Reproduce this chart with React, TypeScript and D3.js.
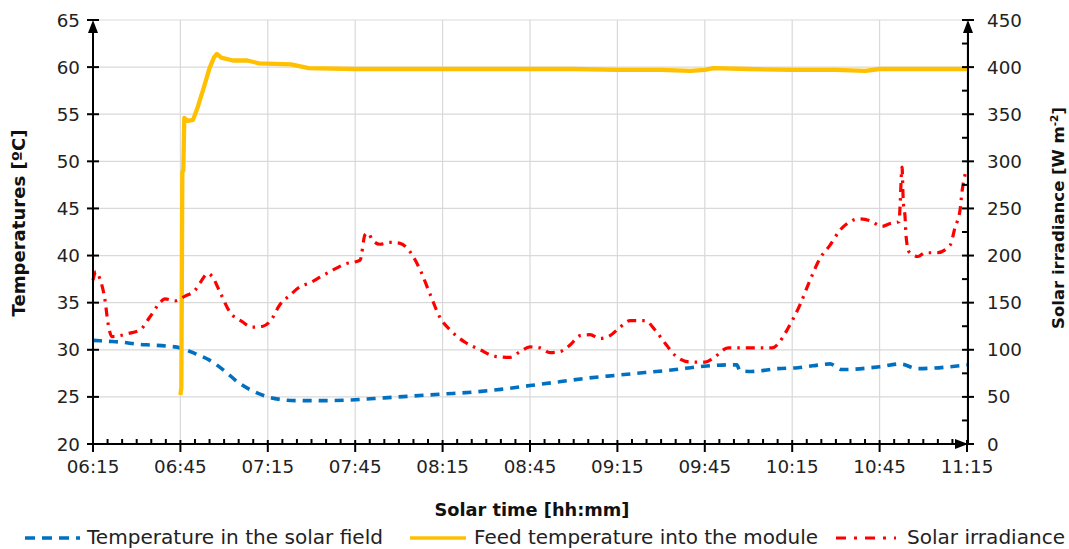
import React from "react";
import * as d3 from "d3";

const W = 1069;
const H = 549;

const xTickLabels = ["06:15", "06:45", "07:15", "07:45", "08:15", "08:45", "09:15", "09:45", "10:15", "10:45", "11:15"];
const leftTicks = [20, 25, 30, 35, 40, 45, 50, 55, 60, 65];
const rightTicks = [0, 50, 100, 150, 200, 250, 300, 350, 400, 450];

const fieldTimes = ["06:15:00", "06:20:00", "06:25:00", "06:30:00", "06:35:00", "06:40:00", "06:45:00", "06:50:00", "06:55:00", "07:00:00", "07:05:00", "07:10:00", "07:15:00", "07:20:00", "07:25:00", "07:35:00", "07:45:00", "07:55:00", "08:05:00", "08:15:00", "08:25:00", "08:35:00", "08:45:00", "08:55:00", "09:05:00", "09:15:00", "09:25:00", "09:35:00", "09:43:00", "09:54:00", "09:56:00", "09:57:00", "10:01:00", "10:10:00", "10:17:00", "10:22:00", "10:28:00", "10:32:00", "10:45:00", "10:52:00", "10:58:00", "11:15:00"];
const fieldTemp = [31.0, 30.9, 30.8, 30.6, 30.5, 30.4, 30.2, 29.6, 28.9, 27.8, 26.5, 25.6, 25.0, 24.7, 24.6, 24.6, 24.7, 24.9, 25.1, 25.3, 25.5, 25.8, 26.2, 26.6, 27.0, 27.3, 27.6, 27.9, 28.2, 28.4, 28.4, 27.8, 27.7, 28.0, 28.1, 28.3, 28.5, 27.9, 28.2, 28.5, 28.0, 28.4];

const feedTimes = ["06:45:00", "06:45:20", "06:45:40", "06:46:00", "06:46:20", "06:47:30", "06:49:20", "06:51:00", "06:53:00", "06:55:00", "06:56:30", "06:57:30", "06:59:00", "07:03:00", "07:08:00", "07:12:00", "07:23:00", "07:29:00", "07:45:00", "08:00:00", "08:15:00", "08:30:00", "08:45:00", "09:00:00", "09:15:00", "09:30:00", "09:40:00", "09:45:00", "09:48:00", "10:00:00", "10:15:00", "10:30:00", "10:40:00", "10:45:00", "11:00:00", "11:15:00"];
const feedTemp = [25.2, 26.0, 48.9, 49.0, 54.6, 54.3, 54.4, 55.8, 57.8, 59.9, 61.0, 61.4, 61.0, 60.7, 60.7, 60.4, 60.3, 59.9, 59.8, 59.8, 59.8, 59.8, 59.8, 59.8, 59.7, 59.7, 59.6, 59.7, 59.9, 59.8, 59.7, 59.7, 59.6, 59.8, 59.8, 59.8];

const irrTimes = ["06:15:00", "06:16:00", "06:17:24", "06:19:06", "06:20:10", "06:21:30", "06:24:18", "06:26:40", "06:31:08", "06:34:34", "06:38:00", "06:39:43", "06:43:09", "06:46:35", "06:50:00", "06:51:44", "06:54:29", "06:55:51", "06:58:36", "07:02:00", "07:06:09", "07:09:35", "07:13:21", "07:15:46", "07:19:12", "07:22:38", "07:26:04", "07:29:30", "07:32:56", "07:36:22", "07:41:30", "07:46:40", "07:48:22", "07:49:24", "07:50:48", "07:53:30", "07:57:00", "08:00:24", "08:03:50", "08:07:16", "08:10:42", "08:14:08", "08:17:34", "08:22:42", "08:27:52", "08:33:00", "08:38:10", "08:41:36", "08:45:00", "08:48:28", "08:51:52", "08:55:18", "08:58:44", "09:02:10", "09:05:36", "09:09:00", "09:12:28", "09:15:54", "09:19:20", "09:24:28", "09:27:56", "09:31:22", "09:34:48", "09:40:00", "09:45:06", "09:47:50", "09:53:00", "09:59:30", "10:08:06", "10:11:30", "10:13:14", "10:17:42", "10:21:08", "10:24:32", "10:28:00", "10:31:26", "10:34:52", "10:37:36", "10:41:44", "10:45:52", "10:48:38", "10:51:42", "10:52:00", "10:52:42", "10:53:06", "10:53:44", "10:54:06", "10:55:06", "10:58:12", "11:00:36", "11:04:42", "11:09:12", "11:10:54", "11:12:36", "11:13:18", "11:14:42"];
const irrValues = [174, 183, 175, 153, 128, 114, 115, 117, 121, 135, 150, 154, 152, 157, 163, 171, 181, 178, 161, 140, 130, 124, 125, 130, 148, 158, 167, 171, 177, 183, 191, 195, 222, 224, 217, 212, 214, 213, 204, 185, 159, 134, 121, 108, 100, 93, 92, 98, 103, 102, 97, 98, 105, 115, 116, 112, 115, 124, 131, 131, 121, 107, 94, 87, 87, 91, 102, 102, 102, 112, 121, 148, 174, 197, 211, 227, 236, 239, 237, 231, 234, 236, 251, 294, 259, 241, 220, 204, 199, 203, 203, 211, 230, 248, 268, 290];

const parse = d3.timeParse("%H:%M:%S");
const parseHM = d3.timeParse("%H:%M");

const X0 = 93, X1 = 967, Y0 = 444, Y1 = 20;

export default function App() {
  const x = d3.scaleTime().domain([parseHM("06:15")!, parseHM("11:15")!]).range([X0, X1]);
  const yL = d3.scaleLinear().domain([20, 65]).range([Y0, Y1]);
  const yR = d3.scaleLinear().domain([0, 450]).range([Y0, Y1]);

  const field = fieldTimes.map((t, i) => ({ t: parse(t)!, v: fieldTemp[i] }));
  const feed = feedTimes.map((t, i) => ({ t: parse(t)!, v: feedTemp[i] }));
  const irr = irrTimes.map((t, i) => ({ t: parse(t)!, v: irrValues[i] }));

  const lineL = d3.line<{ t: Date; v: number }>().x((d) => x(d.t)).y((d) => yL(d.v)).curve(d3.curveMonotoneX);
  const lineLin = d3.line<{ t: Date; v: number }>().x((d) => x(d.t)).y((d) => yL(d.v)).curve(d3.curveLinear);
  const lineR = d3.line<{ t: Date; v: number }>().x((d) => x(d.t)).y((d) => yR(d.v)).curve(d3.curveMonotoneX);

  const majorX = xTickLabels.map((s) => parseHM(s)!);
  const minorX = d3.timeMinute.every(5)!.range(parseHM("06:15")!, parseHM("11:15")!).filter((d) => d.getMinutes() % 30 !== 15);
  const minorR = d3.range(25, 450, 50);

  const font = "'DejaVu Sans', Verdana, sans-serif";
  const grid = "#d9d9d9";
  const tickFs = 18.3;

  return (
    <svg width={W} height={H} style={{ position: "absolute", left: 0, top: 0, background: "#fff" }} fontFamily={font}>
      {/* grid */}
      {leftTicks.slice(1).map((v) => (
        <line key={"gh" + v} x1={X0} x2={X1} y1={yL(v)} y2={yL(v)} stroke={grid} strokeWidth={1.2} />
      ))}
      {majorX.slice(1).map((d, i) => (
        <line key={"gv" + i} x1={x(d)} x2={x(d)} y1={Y1} y2={Y0} stroke={grid} strokeWidth={1.2} />
      ))}

      {/* series */}
      <path d={lineL(field)!} fill="none" stroke="#0070C0" strokeWidth={3.6} strokeDasharray="9,7" />
      <path d={lineLin(feed)!} fill="none" stroke="#FFC000" strokeWidth={4.3} strokeLinejoin="round" />
      <path d={lineR(irr)!} fill="none" stroke="#FF0000" strokeWidth={3.2} strokeDasharray="9,6,2.5,6" />

      {/* axes */}
      <line x1={X0} x2={X0} y1={Y0 + 1} y2={Y1 + 6} stroke="#000" strokeWidth={2} />
      <path d={`M${X0},${Y1} L${X0 - 5},${Y1 + 13} L${X0 + 5},${Y1 + 13} Z`} fill="#000" />
      <line x1={X1 + 1} x2={X1 + 1} y1={Y0 + 1} y2={Y1 + 6} stroke="#000" strokeWidth={2} />
      <path d={`M${X1 + 1},${Y1} L${X1 - 4},${Y1 + 13} L${X1 + 6},${Y1 + 13} Z`} fill="#000" />
      <line x1={X0} x2={X1 - 6} y1={Y0} y2={Y0} stroke="#000" strokeWidth={2} />
      <path d={`M${X1 + 1},${Y0} L${X1 - 12},${Y0 - 5} L${X1 - 12},${Y0 + 5} Z`} fill="#000" />

      {/* left ticks */}
      {leftTicks.map((v) => (
        <g key={"lt" + v}>
          <line x1={X0 - 6} x2={X0 + 6} y1={yL(v)} y2={yL(v)} stroke="#000" strokeWidth={2} />
          <text x={X0 - 13} y={yL(v)} dy="0.36em" textAnchor="end" fontSize={tickFs} fill="#222">{v}</text>
        </g>
      ))}
      {/* right ticks */}
      {rightTicks.map((v) => (
        <g key={"rt" + v}>
          <line x1={X1 - 5} x2={X1 + 7} y1={yR(v)} y2={yR(v)} stroke="#000" strokeWidth={2} />
          <text x={X1 + 20} y={yR(v)} dy="0.36em" textAnchor="start" fontSize={tickFs} fill="#222">{v}</text>
        </g>
      ))}
      {minorR.map((v) => (
        <line key={"rm" + v} x1={X1 - 5} x2={X1 + 1} y1={yR(v)} y2={yR(v)} stroke="#000" strokeWidth={2} />
      ))}
      {/* bottom ticks */}
      {majorX.map((d, i) => (
        <g key={"bt" + i}>
          <line x1={x(d)} x2={x(d)} y1={Y0 - 4} y2={Y0 + 8} stroke="#000" strokeWidth={2} />
          <text x={x(d)} y={Y0 + 29} textAnchor="middle" fontSize={tickFs} fill="#222">{xTickLabels[i]}</text>
        </g>
      ))}
      {minorX.map((d, i) => (
        <line key={"bm" + i} x1={x(d)} x2={x(d)} y1={Y0 - 5} y2={Y0} stroke="#000" strokeWidth={2} />
      ))}

      {/* axis titles */}
      <text transform={`translate(25,223) rotate(-90)`} textAnchor="middle" fontSize={17} fontWeight="bold" fill="#111"
        textLength={187} lengthAdjust="spacingAndGlyphs">
        Temperatures [ºC]
      </text>
      <text transform={`translate(1064,218) rotate(-90)`} textAnchor="middle" fontSize={16.5} fontWeight="bold" fill="#111">
        Solar irradiance [W m<tspan dy={-6} fontSize={10.5}>-2</tspan><tspan dy={6}>]</tspan>
      </text>
      <text x={532} y={516} textAnchor="middle" fontSize={17} fontWeight="bold" fill="#111"
        textLength={195} lengthAdjust="spacingAndGlyphs">Solar time [hh:mm]</text>

      {/* legend */}
      <line x1={25} x2={80} y1={538} y2={538} stroke="#0070C0" strokeWidth={3.5} strokeDasharray="10,7" />
      <text x={87} y={544} fontSize={19} fill="#222" textLength={296} lengthAdjust="spacingAndGlyphs">Temperature in the solar field</text>
      <line x1={410} x2={466} y1={538} y2={538} stroke="#FFC000" strokeWidth={3.5} />
      <text x={474} y={544} fontSize={19} fill="#222" textLength={344} lengthAdjust="spacingAndGlyphs">Feed temperature into the module</text>
      <line x1={836} x2={896} y1={538} y2={538} stroke="#FF0000" strokeWidth={3.2} strokeDasharray="10,8,3,8" />
      <text x={907} y={544} fontSize={19} fill="#222" textLength={158} lengthAdjust="spacingAndGlyphs">Solar irradiance</text>
    </svg>
  );
}
